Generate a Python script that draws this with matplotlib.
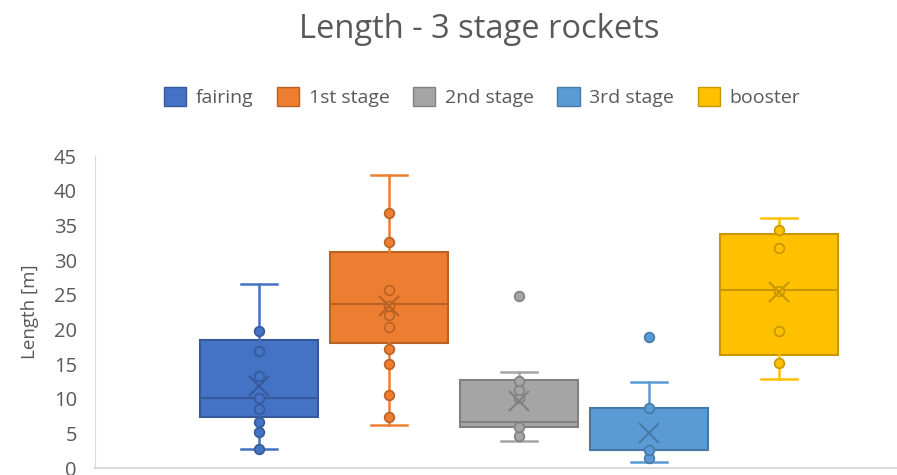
import numpy as np
import matplotlib.pyplot as plt
from matplotlib.patches import Patch
from matplotlib.colors import to_rgb

plt.rcParams['font.family'] = ['Open Sans', 'DejaVu Sans']

# categories and colours
names = ['fairing', '1st stage', '2nd stage', '3rd stage', 'booster']
colors = ['#4472C4', '#ED7D31', '#A5A5A5', '#5B9BD5', '#FFC000']

# box statistics [m]
whis_lo = [2.7, 6.2, 3.9, 0.9, 12.9]
q1 = [7.3, 18.0, 5.9, 2.6, 16.3]
median = [10.1, 23.6, 6.7, 2.6, 25.7]
q3 = [18.4, 31.2, 12.7, 8.6, 33.8]
whis_hi = [26.6, 42.2, 13.8, 12.4, 36.1]
mean = [11.8, 23.4, 9.6, 5.0, 25.4]

# individual lengths drawn on top of the boxes [m]
pts_fairing = [2.7, 5.2, 6.7, 8.5, 10.1, 13.2, 16.9, 19.7]
pts_stage1 = [7.4, 10.5, 15.0, 17.1, 20.4, 22.0, 23.3, 25.7, 32.6, 36.75]
pts_stage2 = [4.6, 5.9, 10.05, 11.25, 12.6, 24.8]
pts_stage3 = [1.4, 2.6, 8.6, 18.9]
pts_booster = [15.1, 19.7, 25.6, 31.7, 34.3]
points = [pts_fairing, pts_stage1, pts_stage2, pts_stage3, pts_booster]

yticks = np.arange(0, 50, 5)


def darker(c, f=0.78):
    return tuple(v * f for v in to_rgb(c))


W, H = 897, 475
fig = plt.figure(figsize=(W / 100, H / 100), dpi=100)
# axes runs a bit past the right edge of the figure
ax = fig.add_axes([95 / W, 7 / H, 849 / W, 312 / H])

pos = np.arange(len(names))
for i in range(len(names)):
    c = colors[i]
    d = darker(c)
    st = [dict(whislo=whis_lo[i], q1=q1[i], med=median[i], q3=q3[i],
               whishi=whis_hi[i], mean=mean[i], fliers=[])]
    ax.bxp(st, positions=[pos[i]], widths=0.91, capwidths=0.27,
           patch_artist=True, showmeans=False, showfliers=False,
           boxprops=dict(facecolor=c, edgecolor=d, linewidth=1.5),
           medianprops=dict(color=d, linewidth=1.5),
           whiskerprops=dict(color=c, linewidth=1.8),
           capprops=dict(color=c, linewidth=1.8))
    ax.plot(np.full(len(points[i]), pos[i]), points[i], 'o', ms=7,
            mfc=c, mec=d, mew=1.2, zorder=4)
    ax.plot(pos[i], mean[i], 'x', ms=14, mew=1.5, color=d, zorder=5)

ax.set_xlim(-1.2615, 5.269)
ax.set_ylim(0, 45)
ax.set_yticks(yticks)
ax.set_xticks([])
ax.tick_params(axis='y', length=0, labelsize=14.5, labelcolor='#595959', pad=13)
for s in ['top', 'right']:
    ax.spines[s].set_visible(False)
ax.spines['left'].set_color('#D9D9D9')
ax.spines['bottom'].set_color('#D9D9D9')
ax.spines['bottom'].set_linewidth(1.5)
ax.set_ylabel('Length [m]', fontsize=13.5, color='#595959', labelpad=11)
ax.set_facecolor('none')

fig.text(479 / W, 1 - 30 / H, 'Length - 3 stage rockets', ha='center', va='center',
         fontsize=23.5, color='#595959')

handles = [Patch(facecolor=c, edgecolor=darker(c), linewidth=1) for c in colors]
fig.legend(handles, names, loc='center', bbox_to_anchor=(482 / W, 1 - 97 / H),
           ncol=5, frameon=False, fontsize=14, labelcolor='#595959',
           handlelength=1.15, handleheight=1.15, handletextpad=0.5, columnspacing=1.2)

fig.savefig('out.png', dpi=100)
